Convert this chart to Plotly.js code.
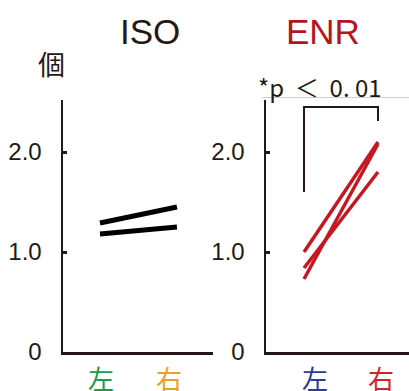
<!DOCTYPE html>
<html><head><meta charset="utf-8">
<script src="https://cdn.plot.ly/plotly-3.0.1.min.js"></script>
<style>html,body{margin:0;padding:0;background:#fff;}#chart{width:409px;height:391px;}</style>
</head><body><div id="chart"></div>
<script>
// ---- data ----
const categories = ['左', '右'];
const isoLeft  = [1.29, 1.18];
const isoRight = [1.45, 1.25];
const enrLeft  = [1.00, 0.84, 0.73];
const enrRight = [2.10, 1.80, 2.08];
const yTickVals = [0, 1, 2];
const yTickText = ['0', '1.0', '2.0'];
const isoLabelColors = ['#1d9a4c', '#efa020'];
const enrLabelColors = ['#2b3a96', '#d3242c'];
const sigText = '*p  ＜  0. 01';
const sigBracket = {x0: 0, x1: 1, yLeft: 1.60, yTop: 2.45, yRight: 2.31};

// ---- layout helpers ----
const W = 409, H = 391, L = 63, R = 0, T = 100, B = 39;
const pw = W - L - R, ph = H - T - B;
const px = v => (v - L) / pw;
const py = v => (H - B - v) / ph;

const axisColor = '#231815';
const latin = 'Arial, "Liberation Sans", sans-serif';
const cjk = '"Noto Sans CJK JP", sans-serif';

const traces = [];
for (let i = 0; i < isoLeft.length; i++) {
  traces.push({x: [0, 1], y: [isoLeft[i], isoRight[i]], xaxis: 'x', yaxis: 'y', mode: 'lines',
    line: {color: '#000', width: 5}, hoverinfo: 'skip', showlegend: false});
}
for (let i = 0; i < enrLeft.length; i++) {
  traces.push({x: [0, 1], y: [enrLeft[i], enrRight[i]], xaxis: 'x2', yaxis: 'y2', mode: 'lines',
    line: {color: '#c8161e', width: 3.5}, hoverinfo: 'skip', showlegend: false});
}

const yax = {
  range: [0, 2.52], tickvals: yTickVals, ticktext: yTickText, ticks: 'inside', ticklen: 4,
  tickwidth: 3, tickcolor: axisColor, showline: true, linecolor: axisColor, linewidth: 2.5,
  showgrid: false, zeroline: false, ticklabelstandoff: 14,
  tickfont: {family: latin, size: 24, color: '#231815'}, fixedrange: true
};
const xax = {
  showline: true, linecolor: axisColor, linewidth: 2.5, showgrid: false, zeroline: false,
  showticklabels: false, ticks: '', fixedrange: true
};

const annotations = [
  {text: 'ISO', x: px(150), y: py(31), xref: 'paper', yref: 'paper', showarrow: false,
   xanchor: 'center', yanchor: 'middle', font: {family: latin, size: 35, color: '#231815'}},
  {text: 'ENR', x: px(323), y: py(31), xref: 'paper', yref: 'paper', showarrow: false,
   xanchor: 'center', yanchor: 'middle', font: {family: latin, size: 35, color: '#b5151e'}},
  {text: '個', x: px(51), y: py(63), xref: 'paper', yref: 'paper', showarrow: false,
   xanchor: 'center', yanchor: 'middle', font: {family: cjk, size: 27, color: '#231815'}},
  {text: sigText, x: px(256), y: py(87), xref: 'paper', yref: 'paper', showarrow: false,
   xanchor: 'left', yanchor: 'middle', font: {family: cjk, size: 24, color: '#231815'}}
];
const labelShiftIso = [1, -8];
const labelShiftEnr = [11, 3];
categories.forEach((c, i) => {
  annotations.push({text: c, x: i, y: 0, xref: 'x', yref: 'y', showarrow: false, xanchor: 'center',
    yanchor: 'top', yshift: -5, xshift: labelShiftIso[i],
    font: {family: cjk, size: 26, color: isoLabelColors[i]}});
  annotations.push({text: c, x: i, y: 0, xref: 'x2', yref: 'y2', showarrow: false, xanchor: 'center',
    yanchor: 'top', yshift: -5, xshift: labelShiftEnr[i],
    font: {family: cjk, size: 26, color: enrLabelColors[i]}});
});

const shapes = [
  {type: 'path', xref: 'x2', yref: 'y2',
   path: `M ${sigBracket.x0} ${sigBracket.yLeft} L ${sigBracket.x0} ${sigBracket.yTop} L ${sigBracket.x1} ${sigBracket.yTop} L ${sigBracket.x1} ${sigBracket.yRight}`,
   line: {color: axisColor, width: 2}},
  {type: 'line', xref: 'paper', yref: 'paper', x0: px(262), x1: 1, y0: py(97.5), y1: py(97.5),
   line: {color: '#cfcfcf', width: 1}}
];

const layout = {
  width: W, height: H, margin: {l: L, r: R, t: T, b: B}, paper_bgcolor: '#fff', plot_bgcolor: '#fff',
  showlegend: false,
  xaxis: Object.assign({}, xax, {domain: [0, px(213)], range: [-0.48, 1.468], anchor: 'y'}),
  yaxis: Object.assign({}, yax, {domain: [0, 1], anchor: 'x'}),
  xaxis2: Object.assign({}, xax, {domain: [px(266), 1], range: [-0.514, 1.419], anchor: 'y2'}),
  yaxis2: Object.assign({}, yax, {domain: [0, 1], anchor: 'x2'}),
  annotations: annotations, shapes: shapes
};
Plotly.newPlot('chart', traces, layout, {staticPlot: true, displayModeBar: false});
</script></body></html>
